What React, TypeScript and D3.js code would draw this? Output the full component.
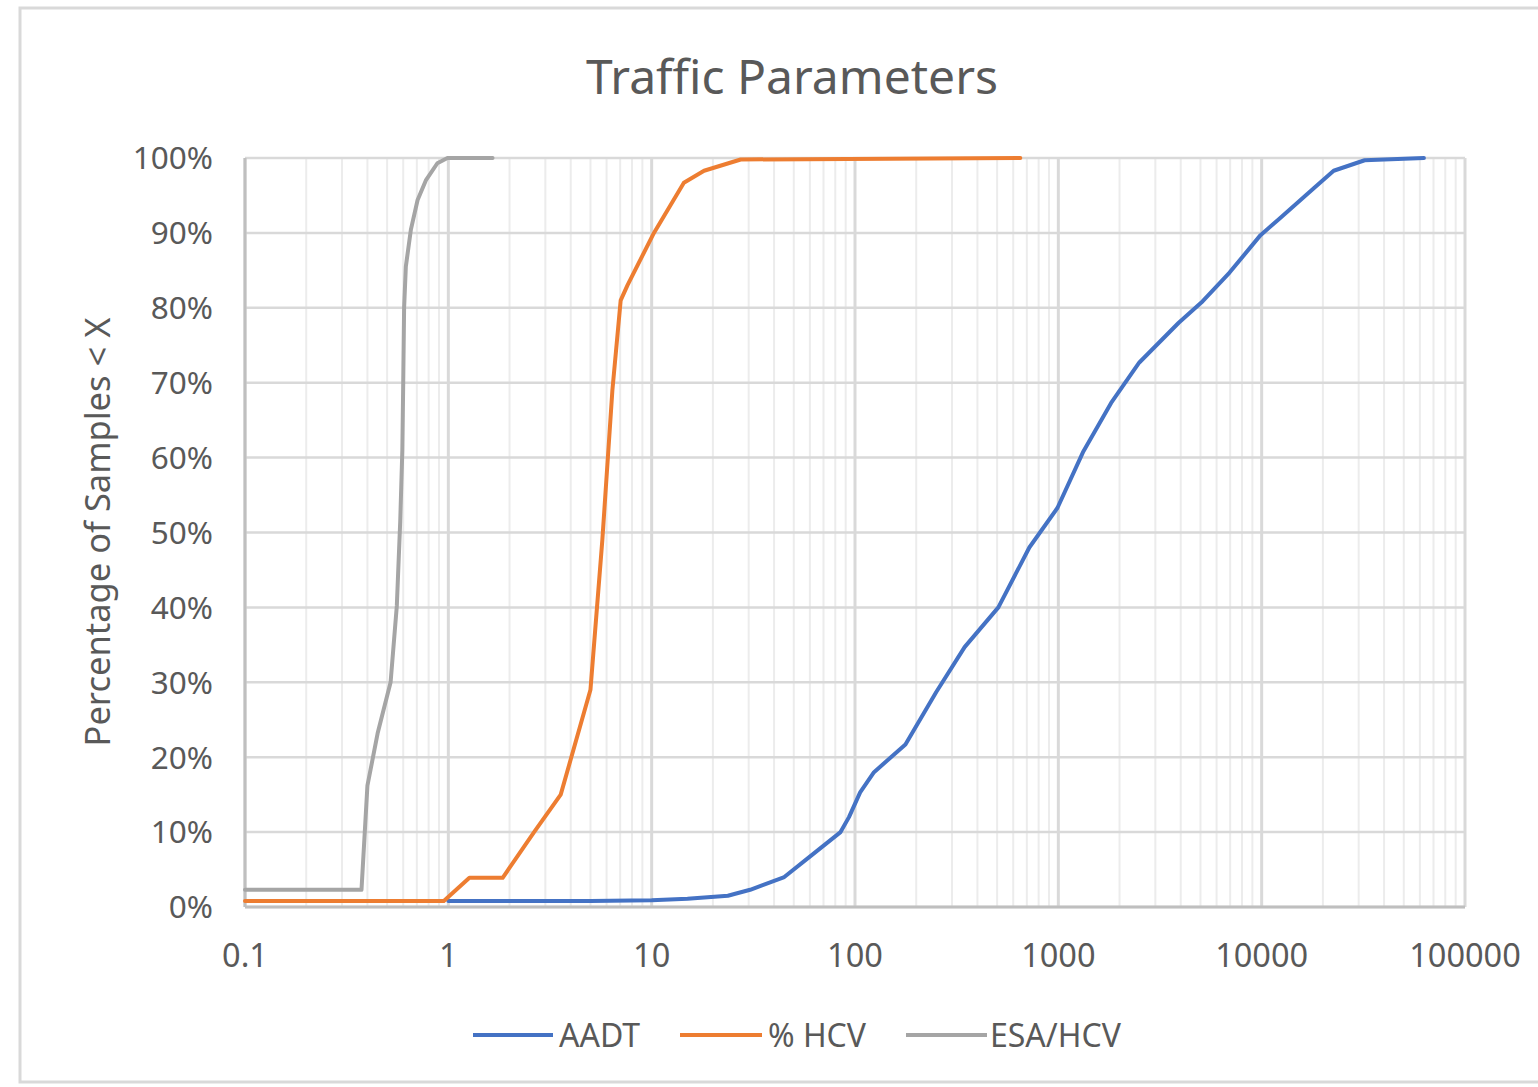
import React from "react";
import * as d3 from "d3";

const W = 1538;
const H = 1087;

const chartTitle = "Traffic Parameters";
const yAxisTitle = "Percentage of Samples < X";

const seriesNames = ["AADT", "% HCV", "ESA/HCV"];
const seriesColors = ["#4472C4", "#ED7D31", "#A5A5A5"];

// AADT: value, cumulative fraction
const aadtX = [1, 5, 10, 15, 23.7, 30.5, 44.9, 61.7, 84.9, 93.4, 106, 124, 177, 251, 346, 507, 720, 991, 1321, 1818, 2502, 3909, 5050, 6950, 9870, 12340, 18100, 22600, 32100, 62800];
const aadtY = [0.008, 0.008, 0.009, 0.011, 0.015, 0.023, 0.04, 0.07, 0.1, 0.12, 0.153, 0.18, 0.217, 0.287, 0.347, 0.4, 0.48, 0.533, 0.607, 0.673, 0.727, 0.78, 0.807, 0.847, 0.897, 0.92, 0.96, 0.983, 0.997, 1.0];

// % HCV
const hcvX = [0.1, 0.95, 1.27, 1.85, 2.64, 3.57, 5.0, 5.72, 6.41, 7.04, 7.6, 10.26, 14.4, 18.1, 27.4, 650];
const hcvY = [0.008, 0.008, 0.039, 0.039, 0.1, 0.15, 0.29, 0.49, 0.69, 0.81, 0.83, 0.9, 0.967, 0.983, 0.998, 1.0];

// ESA/HCV
const esaX = [0.1, 0.374, 0.4, 0.45, 0.52, 0.558, 0.58, 0.594, 0.6, 0.606, 0.618, 0.654, 0.706, 0.775, 0.883, 0.99, 1.65];
const esaY = [0.023, 0.023, 0.162, 0.233, 0.3, 0.402, 0.515, 0.61, 0.7, 0.8, 0.855, 0.904, 0.944, 0.97, 0.993, 1.0, 1.0];

const xTickValues = [0.1, 1, 10, 100, 1000, 10000, 100000];
const xTickLabels = ["0.1", "1", "10", "100", "1000", "10000", "100000"];
const yTickValues = [0, 0.1, 0.2, 0.3, 0.4, 0.5, 0.6, 0.7, 0.8, 0.9, 1.0];
const yTickLabels = ["0%", "10%", "20%", "30%", "40%", "50%", "60%", "70%", "80%", "90%", "100%"];

const FONT = "'Noto Sans', 'Open Sans', sans-serif";
const TEXT = "#595959";

export default function App() {
  const left = 245, right = 1465, top = 158, bottom = 907;
  const x = d3.scaleLog().domain([0.1, 100000]).range([left, right]);
  const y = d3.scaleLinear().domain([0, 1]).range([bottom, top]);

  const series = [
    { name: seriesNames[0], color: seriesColors[0], xs: aadtX, ys: aadtY },
    { name: seriesNames[1], color: seriesColors[1], xs: hcvX, ys: hcvY },
    { name: seriesNames[2], color: seriesColors[2], xs: esaX, ys: esaY },
  ];

  const line = d3
    .line<[number, number]>()
    .x((d) => x(d[0]))
    .y((d) => y(d[1]));

  const minor: number[] = [];
  for (let e = -1; e < 5; e++) {
    for (let k = 2; k <= 9; k++) minor.push(k * Math.pow(10, e));
  }

  const legendItems = [
    { x1: 473, x2: 553, tx: 559 },
    { x1: 680, x2: 762, tx: 768 },
    { x1: 906, x2: 987, tx: 990 },
  ];

  return (
    <div style={{ position: "absolute", left: 0, top: 0 }}>
      <svg width={W} height={H} style={{ display: "block", background: "#fff" }}>
        <rect x={0} y={0} width={W} height={H} fill="#fff" />
        <rect x={20} y={8} width={1560} height={1074} fill="#fff" stroke="#d9d9d9" strokeWidth={3} />

        <text x={792} y={94} textAnchor="middle" fontFamily={FONT} fontSize={48} fill={TEXT}>
          {chartTitle}
        </text>

        {/* minor vertical gridlines */}
        {minor.map((v, i) => (
          <line key={"mn" + i} x1={x(v)} x2={x(v)} y1={top} y2={bottom} stroke="#ececec" strokeWidth={2} />
        ))}
        {/* horizontal gridlines */}
        {yTickValues.map((v, i) => (
          <line key={"h" + i} x1={left} x2={right} y1={y(v)} y2={y(v)} stroke="#d9d9d9" strokeWidth={2.5} />
        ))}
        {/* major vertical gridlines */}
        {xTickValues.map((v, i) => (
          <line key={"mj" + i} x1={x(v)} x2={x(v)} y1={top} y2={bottom} stroke="#d9d9d9" strokeWidth={3} />
        ))}
        {/* axes */}
        <line x1={left} x2={left} y1={top} y2={bottom} stroke="#bfbfbf" strokeWidth={3} />
        <line x1={left} x2={right} y1={bottom} y2={bottom} stroke="#bfbfbf" strokeWidth={3} />

        {/* series */}
        {series.map((s) => (
          <path
            key={s.name}
            d={line(s.xs.map((v, i) => [v, s.ys[i]] as [number, number])) || ""}
            fill="none"
            stroke={s.color}
            strokeWidth={4}
            strokeLinejoin="round"
            strokeLinecap="round"
          />
        ))}

        {/* y tick labels */}
        {yTickValues.map((v, i) => (
          <text key={"yl" + i} x={213} y={y(v)} dy="0.36em" textAnchor="end" fontFamily={FONT} fontSize={31.5} fill={TEXT}>
            {yTickLabels[i]}
          </text>
        ))}
        {/* x tick labels */}
        {xTickValues.map((v, i) => (
          <text key={"xl" + i} x={x(v)} y={967} textAnchor="middle" fontFamily={FONT} fontSize={32.5} fill={TEXT}>
            {xTickLabels[i]}
          </text>
        ))}

        {/* y axis title */}
        <text
          transform={`translate(110, 532) rotate(-90)`}
          textAnchor="middle"
          fontFamily={FONT}
          fontSize={34.5}
          fill={TEXT}
        >
          {yAxisTitle}
        </text>

        {/* legend */}
        {series.map((s, i) => (
          <g key={"lg" + i}>
            <line x1={legendItems[i].x1} x2={legendItems[i].x2} y1={1035} y2={1035} stroke={s.color} strokeWidth={4} />
            <text x={legendItems[i].tx} y={1035} dy="0.36em" fontFamily={FONT} fontSize={32} fill={TEXT}>
              {s.name}
            </text>
          </g>
        ))}
      </svg>
    </div>
  );
}
